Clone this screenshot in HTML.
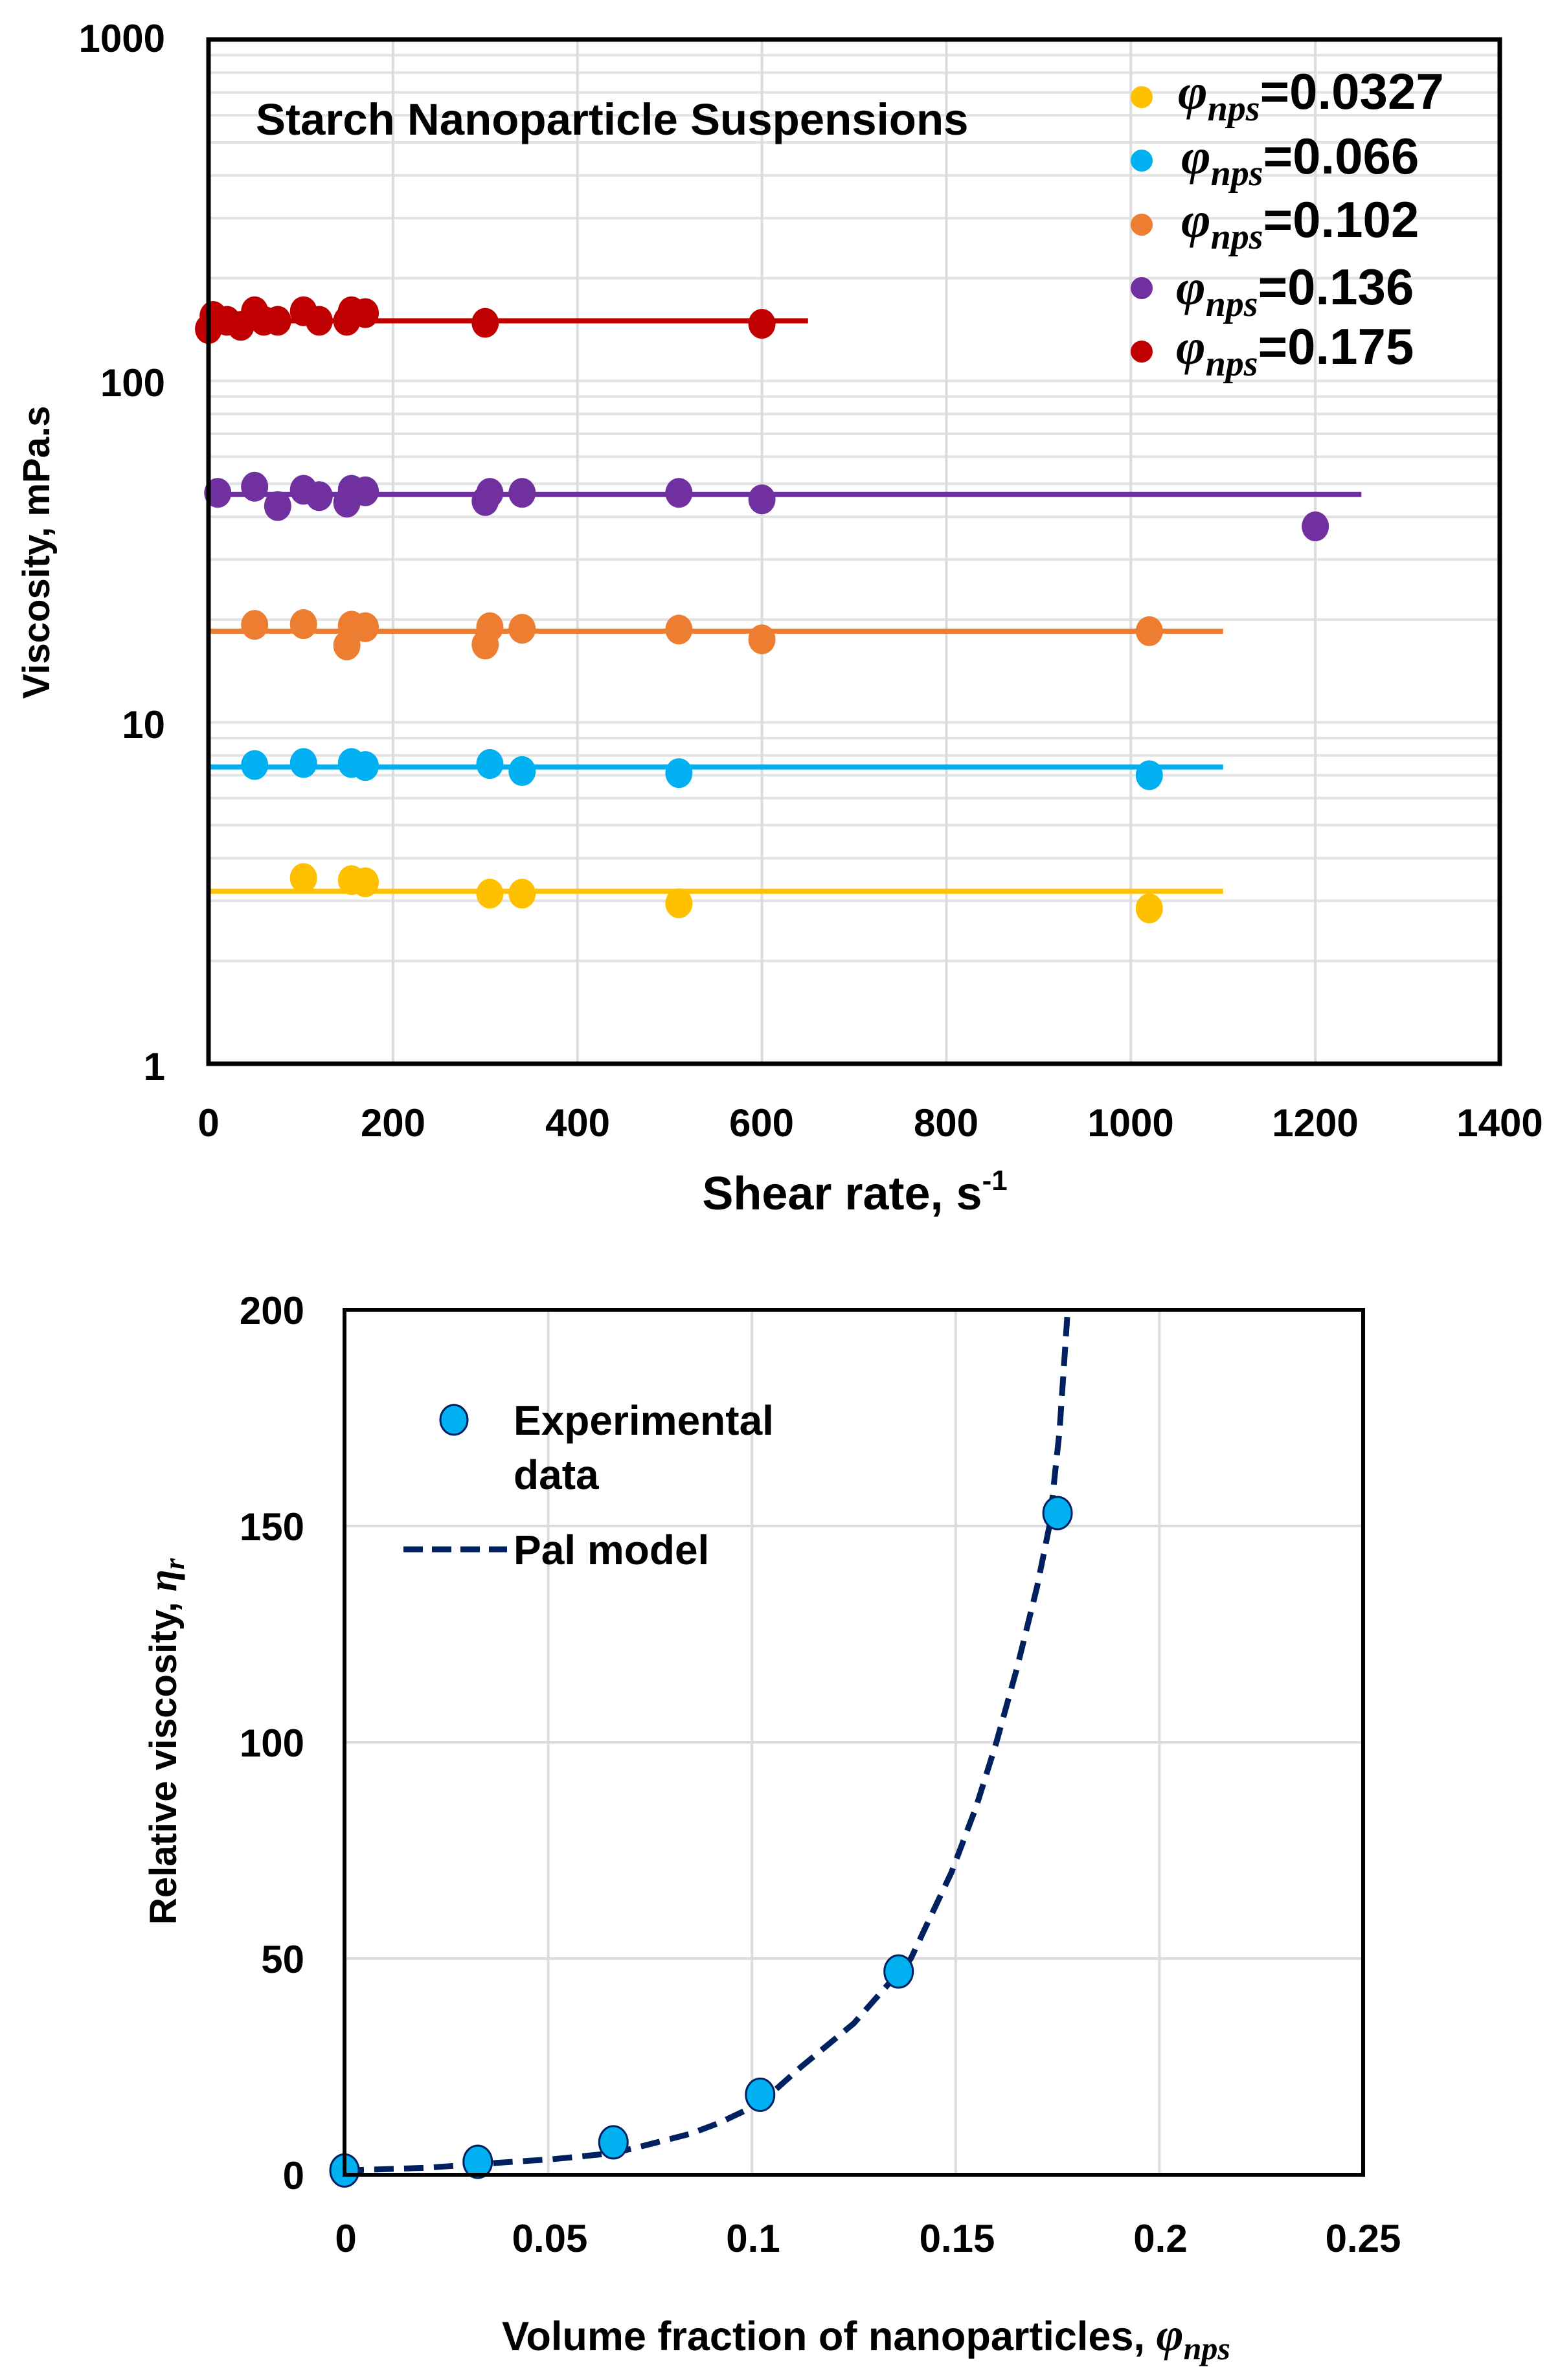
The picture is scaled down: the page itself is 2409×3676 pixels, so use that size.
<!DOCTYPE html>
<html><head><meta charset="utf-8"><style>
html,body{margin:0;padding:0;background:#fff}
svg{display:block}
.t{font-family:"Liberation Sans Narrow","Liberation Sans",sans-serif;font-weight:bold;fill:#000}
.m{font-family:"Liberation Serif",serif;font-style:italic;font-weight:bold;fill:#000}
</style></head><body>
<svg id="s" width="2409" height="3676" viewBox="0 0 2409 3676" xmlns="http://www.w3.org/2000/svg">
<rect width="2409" height="3676" fill="#fff"/>
<g id="grid"></g>
<g id="data"></g>
<rect x="322" y="61" width="1994" height="1582" fill="none" stroke="#000" stroke-width="7"/>
<g class="t" font-size="60" text-anchor="end">
<text x="255" y="80">1000</text>
<text x="255" y="612">100</text>
<text x="255" y="1140">10</text>
<text x="255" y="1668">1</text>
</g>
<g class="t" font-size="60" text-anchor="middle">
<text x="322" y="1755">0</text>
<text x="607" y="1755">200</text>
<text x="892" y="1755">400</text>
<text x="1176" y="1755">600</text>
<text x="1461" y="1755">800</text>
<text x="1746" y="1755">1000</text>
<text x="2031" y="1755">1200</text>
<text x="2316" y="1755">1400</text>
</g>
<text class="t" font-size="72" x="1320" y="1868" text-anchor="middle">Shear rate, s<tspan font-size="44" dy="-30">-1</tspan></text>
<text font-family="Liberation Sans,sans-serif" font-weight="bold" font-size="58" transform="translate(76,853) rotate(-90)" text-anchor="middle">Viscosity, mPa.s</text>
<text class="t" font-size="69" x="395" y="208">Starch Nanoparticle Suspensions</text>
<g>
<ellipse cx="1763" cy="150" rx="17" ry="17" fill="#ffc000"/>
<ellipse cx="1763" cy="248" rx="17" ry="17" fill="#00b0f0"/>
<ellipse cx="1763" cy="347" rx="17" ry="17" fill="#ed7d31"/>
<ellipse cx="1763" cy="445" rx="17" ry="17" fill="#7030a0"/>
<ellipse cx="1763" cy="543" rx="17" ry="17" fill="#c00000"/>
</g>
<g font-size="78">
<text x="1819" y="168"><tspan class="m">φ</tspan><tspan class="m" font-size="56" dy="18">nps</tspan><tspan class="t" dy="-18">=0.0327</tspan></text>
<text x="1824" y="268"><tspan class="m">φ</tspan><tspan class="m" font-size="56" dy="18">nps</tspan><tspan class="t" dy="-18">=0.066</tspan></text>
<text x="1824" y="366"><tspan class="m">φ</tspan><tspan class="m" font-size="56" dy="18">nps</tspan><tspan class="t" dy="-18">=0.102</tspan></text>
<text x="1816" y="470"><tspan class="m">φ</tspan><tspan class="m" font-size="56" dy="18">nps</tspan><tspan class="t" dy="-18">=0.136</tspan></text>
<text x="1816" y="562"><tspan class="m">φ</tspan><tspan class="m" font-size="56" dy="18">nps</tspan><tspan class="t" dy="-18">=0.175</tspan></text>
</g>

<g id="grid2"></g>
<polyline id="curve" fill="none" stroke="#002060" stroke-width="9" stroke-dasharray="30,16" stroke-linejoin="round"/>
<g id="pts2"></g>
<rect x="532" y="2023" width="1573" height="1336" fill="none" stroke="#000" stroke-width="6"/>
<g class="t" font-size="60" text-anchor="end">
<text x="470" y="2045">200</text>
<text x="470" y="2379">150</text>
<text x="470" y="2713">100</text>
<text x="470" y="3047">50</text>
<text x="470" y="3381">0</text>
</g>
<g class="t" font-size="60" text-anchor="middle">
<text x="534" y="3478">0</text>
<text x="849" y="3478">0.05</text>
<text x="1163" y="3478">0.1</text>
<text x="1478" y="3478">0.15</text>
<text x="1792" y="3478">0.2</text>
<text x="2105" y="3478">0.25</text>
</g>
<text class="t" font-size="63" x="775" y="3630">Volume fraction of nanoparticles, <tspan class="m" font-size="72">φ</tspan><tspan class="m" font-size="50" dy="14">nps</tspan></text>
<text font-family="Liberation Sans,sans-serif" font-weight="bold" font-size="58" transform="translate(272,2690) rotate(-90)" text-anchor="middle">Relative viscosity, <tspan class="m" font-weight="normal" font-size="62">η</tspan><tspan class="m" font-weight="normal" font-size="44" dy="12">r</tspan></text>
<ellipse cx="701" cy="2193" rx="21" ry="23" fill="#00b0f0" stroke="#002060" stroke-width="3"/>
<text class="t" font-size="64" x="793" y="2216">Experimental</text>
<text class="t" font-size="64" x="793" y="2300">data</text>
<line x1="623" y1="2393" x2="783" y2="2393" stroke="#002060" stroke-width="9" stroke-dasharray="30,14"/>
<text class="t" font-size="64" x="793" y="2416">Pal model</text>
</svg>
<script>
var NS="http://www.w3.org/2000/svg";
function el(p,n,a){var e=document.createElementNS(NS,n);for(var k in a)e.setAttribute(k,a[k]);p.appendChild(e);return e;}
var g=document.getElementById('grid'),d=document.getElementById('data');
var L=322,R=2316,B=1643,DEC=527.3;
function X(v){return L+v*(R-L)/1400;}
function Y(v){return B-DEC*Math.log10(v);}
for(var dc=0;dc<3;dc++)for(var m=1;m<=10;m++){var v=m*Math.pow(10,dc);if(m==1&&dc>0)continue;var y=Y(v);el(g,'line',{x1:L,x2:R,y1:y,y2:y,stroke:'#e3e3e3','stroke-width':4});}
for(var i=1;i<7;i++){var x=X(i*200);el(g,'line',{x1:x,x2:x,y1:61,y2:B,stroke:'#dcdcdc','stroke-width':4});}
var S=[
['#ffc000',3.2,1100,[[103,3.5],[155,3.45],[170,3.4],[305,3.15],[340,3.15],[510,2.95],[1020,2.85]]],
['#00b0f0',7.4,1100,[[50,7.5],[103,7.6],[155,7.6],[170,7.45],[305,7.55],[340,7.2],[510,7.1],[1020,7.0]]],
['#ed7d31',18.5,1100,[[50,19.3],[103,19.4],[155,19.2],[150,16.8],[170,19.0],[300,16.9],[305,19.0],[340,18.8],[510,18.7],[600,17.5],[1020,18.5]]],
['#7030a0',46.5,1250,[[10,47],[50,49],[75,43],[103,48],[120,46],[150,44],[155,48],[170,47.5],[300,44.5],[305,47],[340,47],[510,47],[600,45],[1200,37.5]]],
['#c00000',150,650,[[0,142],[5,155],[20,150],[35,145],[50,160],[60,150],[75,150],[103,160],[120,150],[150,150],[155,160],[170,158],[300,148],[600,147]]]];
S.forEach(function(s){el(d,'line',{x1:L,x2:X(s[2]),y1:Y(s[1]),y2:Y(s[1]),stroke:s[0],'stroke-width':8});
s[3].forEach(function(p){el(d,'ellipse',{cx:X(p[0]),cy:Y(p[1]),rx:21,ry:23,fill:s[0]});});});
var g2=document.getElementById('grid2');
var L2=532,R2=2105,T2=2023,B2=3359;
function X2(v){return L2+v*(R2-L2)/0.25;}function Y2(v){return B2-v*(B2-T2)/200;}
[50,100,150].forEach(function(v){el(g2,'line',{x1:L2,x2:R2,y1:Y2(v),y2:Y2(v),stroke:'#dcdcdc','stroke-width':4});});
[0.05,0.1,0.15,0.2].forEach(function(v){el(g2,'line',{x1:X2(v),x2:X2(v),y1:T2,y2:B2,stroke:'#dcdcdc','stroke-width':4});});
var c=[[0,1],[0.02,1.6],[0.035,2.6],[0.051,3.6],[0.066,5],[0.073,6.6],[0.085,9.5],[0.092,12],[0.102,16.5],[0.112,24.9],[0.125,35],[0.139,50],[0.149,70],[0.155,85],[0.16,100],[0.165,117],[0.17,136],[0.173,150],[0.1755,172],[0.1775,200]];
document.getElementById('curve').setAttribute('points',c.map(function(p){return X2(p[0]).toFixed(1)+','+Y2(p[1]).toFixed(1);}).join(' '));
var p2=document.getElementById('pts2');
[[0,1],[0.0327,3],[0.066,7.5],[0.102,18.5],[0.136,47],[0.175,153]].forEach(function(p){el(p2,'ellipse',{cx:X2(p[0]),cy:Y2(p[1]),rx:22,ry:25,fill:'#00b0f0',stroke:'#002060','stroke-width':3});});
</script>
</body></html>
